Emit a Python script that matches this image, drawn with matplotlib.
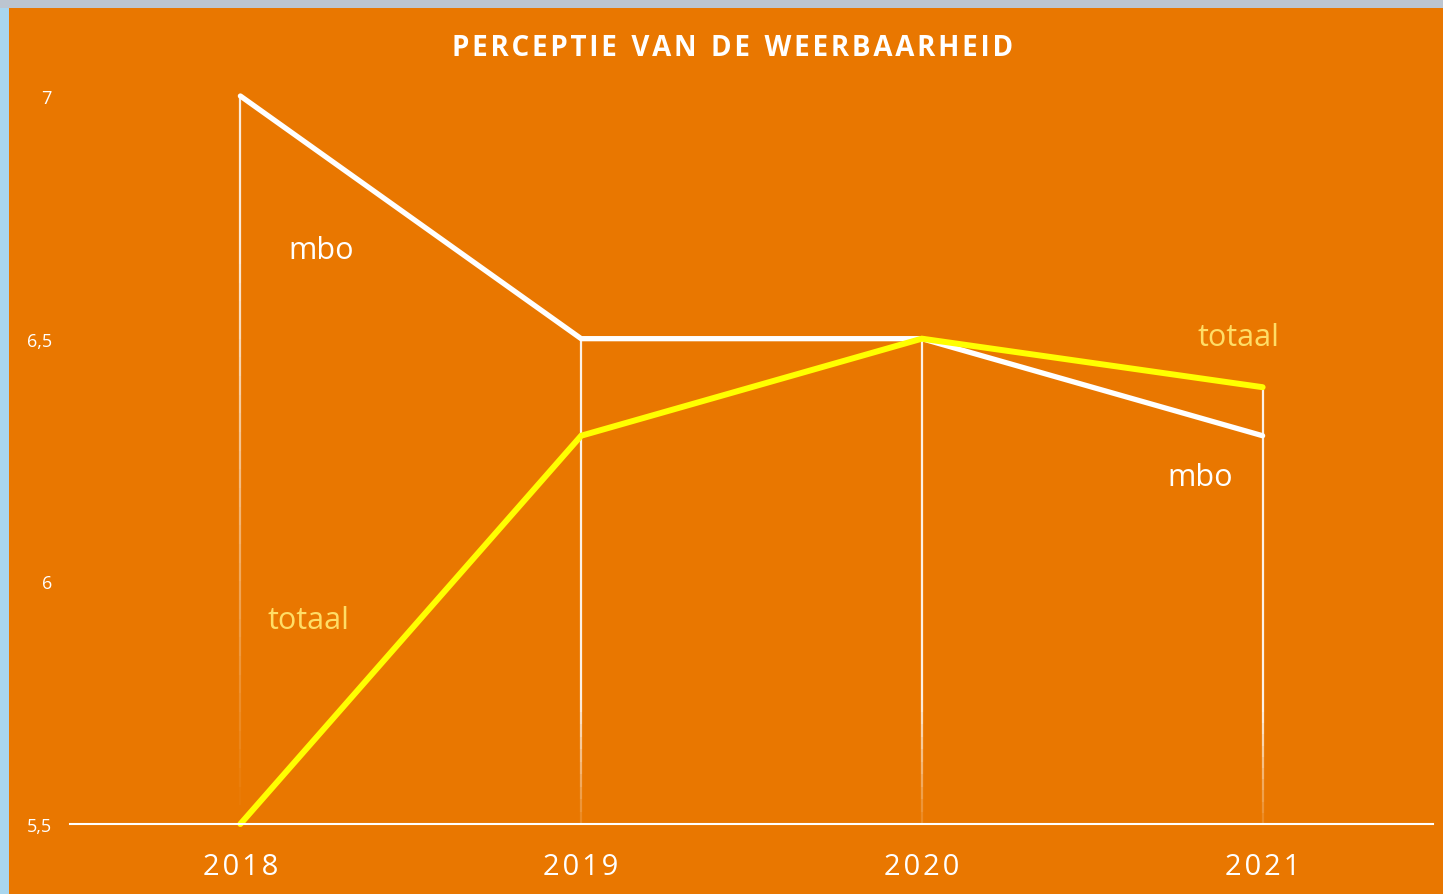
import numpy as np
import matplotlib.pyplot as plt
from matplotlib.collections import LineCollection
from matplotlib.patches import Rectangle

# gegevens
jaren = ["2018", "2019", "2020", "2021"]
mbo = [7.0, 6.5, 6.5, 6.3]
totaal = [5.5, 6.3, 6.5, 6.4]
yticks = [5.5, 6.0, 6.5, 7.0]
ytick_labels = ["5,5", "6", "6,5", "7"]

oranje = "#E97700"
W, H = 1443, 895
fig = plt.figure(figsize=(W / 100, H / 100), dpi=100, facecolor="#bcc5d0")
plt.rcParams["font.family"] = ["Open Sans", "DejaVu Sans"]

# achtergrond: blauwe rand links, oranje vlak
fig.patches.append(Rectangle((0, 0), 9 / W, 1 - 9 / H, transform=fig.transFigure,
                             facecolor="#a9d6ee", edgecolor="none", zorder=-2))
fig.patches.append(Rectangle((9 / W, 0), 1, 1 - 9 / H, transform=fig.transFigure,
                             facecolor=oranje, edgecolor="none", zorder=-2))

ax = fig.add_axes([70 / W, (H - 825) / H, 1363 / W, 728 / H])
ax.set_facecolor("none")
x = np.arange(len(jaren))
ax.set_xlim(-0.5, 3.5)
ax.set_ylim(5.5, 7.0)

# verticale lijnen die naar beneden vervagen
top = np.maximum(mbo, totaal)
for xi, t in zip(x, top):
    ys = np.linspace(5.5, t, 40)
    segs = [[(xi, ys[k]), (xi, ys[k + 1])] for k in range(len(ys) - 1)]
    frac = (ys[:-1] - 5.5) / (t - 5.5)
    alphas = np.clip(0.15 + frac * 3.0, 0, 0.9)
    if xi == 0:
        alphas = np.clip(0.0 + frac * 1.1, 0, 0.85)
    cols = [(1, 1, 1, a) for a in alphas]
    ax.add_collection(LineCollection(segs, colors=cols, linewidths=1.6, zorder=2))

ax.plot(x, mbo, color="white", lw=3.8, solid_capstyle="round", solid_joinstyle="miter",
        clip_on=False, zorder=3)
ax.plot(x, totaal, color="#FFFF00", lw=4.3, solid_capstyle="round", solid_joinstyle="miter",
        clip_on=False, zorder=4)

ax.axhline(5.5, color="white", lw=1.5, zorder=5, clip_on=False)

for s in ax.spines.values():
    s.set_visible(False)
ax.set_xticks(x)
ax.set_xticklabels(["\u200a".join(j) for j in jaren], fontsize=21, color="white")
ax.tick_params(axis="x", length=0, pad=20)
ax.set_yticks(yticks)
ax.set_yticklabels(ytick_labels, fontsize=13, color="white")
ax.tick_params(axis="y", length=0, pad=13)

# labels bij de lijnen
lab_geel = "#FFDD66"
ax.text(0.14, 6.683, "mbo", color="white", fontsize=22, ha="left", va="center")
ax.text(0.08, 5.92, "totaal", color=lab_geel, fontsize=22, ha="left", va="center")
ax.text(2.81, 6.503, "totaal", color=lab_geel, fontsize=22, ha="left", va="center")
ax.text(2.72, 6.215, "mbo", color="white", fontsize=22, ha="left", va="center")

titel = "\u200a".join("PERCEPTIE VAN DE WEERBAARHEID").replace("\u200a \u200a", "  ")
fig.text(733 / W, 1 - 49 / H, titel, color="white", fontsize=20, fontweight="bold",
         ha="center", va="center")

fig.savefig("out.png", dpi=100, facecolor=fig.get_facecolor())
